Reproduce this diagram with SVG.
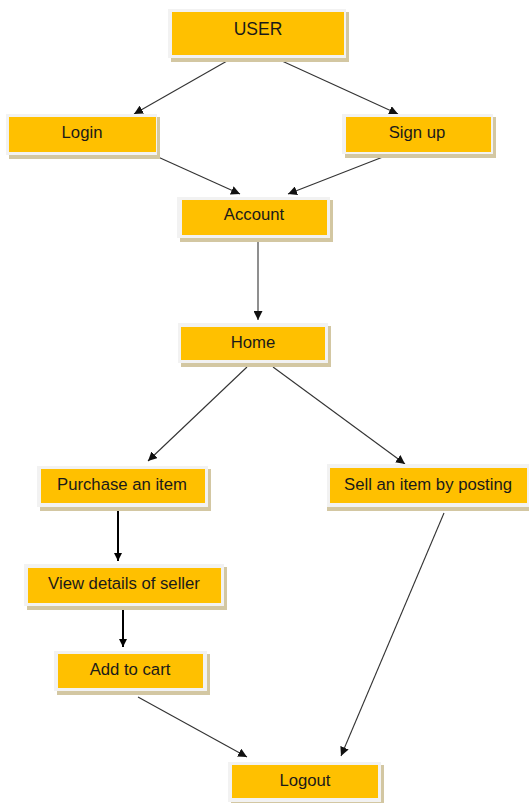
<svg xmlns="http://www.w3.org/2000/svg" width="529" height="803" viewBox="0 0 529 803">
<style>
.sh{fill:#d3c7a2}
.bd{fill:#f2f2f2}
.fl{fill:#ffc000}
.t{font-family:"Liberation Sans",Arial,sans-serif;font-size:16.7px;fill:#1a1a1a;text-anchor:middle}
.c{stroke:#333;stroke-width:1.1;fill:none;marker-end:url(#a)}
.k{stroke:#000;stroke-width:2;fill:none;marker-end:url(#b)}
</style>
<defs>
<marker id="a" viewBox="0 0 10 10" refX="10" refY="5" markerWidth="9" markerHeight="9" markerUnits="userSpaceOnUse" orient="auto"><path d="M0,0 L10,5 L0,10 z" fill="#111"/></marker>
<marker id="b" viewBox="0 0 10 10" refX="10" refY="5" markerWidth="8" markerHeight="8" markerUnits="userSpaceOnUse" orient="auto"><path d="M0,0 L10,5 L0,10 z" fill="#000"/></marker>
</defs>
<rect width="529" height="803" fill="#fff"/>
<g id="connectors">
<line class="c" x1="227" y1="61" x2="134" y2="114"/>
<line class="c" x1="282" y1="61" x2="398" y2="114"/>
<line class="c" x1="158" y1="157" x2="240" y2="194"/>
<line class="c" x1="388" y1="155" x2="288" y2="194"/>
<line class="c" x1="258" y1="237" x2="258" y2="320"/>
<line class="c" x1="247" y1="367" x2="148" y2="461"/>
<line class="c" x1="273" y1="367" x2="405" y2="464"/>
<line class="k" x1="118" y1="506" x2="118" y2="561"/>
<line class="k" x1="123" y1="609" x2="123" y2="647"/>
<line class="c" x1="138" y1="697" x2="247" y2="757"/>
<line class="c" x1="444" y1="513" x2="341" y2="756"/>
</g>
<g id="user">
<rect class="sh" x="171" y="12" width="178" height="50"/>
<rect class="bd" x="168" y="9" width="178" height="49"/>
<rect class="fl" x="172" y="12" width="172" height="43"/>
<text class="t" x="258" y="35" style="font-size:17.5px">USER</text>
</g>
<g id="login">
<rect class="sh" x="9" y="117" width="151" height="42"/>
<rect class="bd" x="6" y="114" width="151" height="41"/>
<rect class="fl" x="9" y="117" width="147" height="35"/>
<text class="t" x="82" y="138">Login</text>
</g>
<g id="signup">
<rect class="sh" x="345" y="117" width="151" height="41"/>
<rect class="bd" x="342" y="114" width="151" height="40"/>
<rect class="fl" x="346" y="117" width="145" height="35"/>
<text class="t" x="417" y="138">Sign up</text>
</g>
<g id="account">
<rect class="sh" x="180" y="200" width="153" height="42"/>
<rect class="bd" x="177" y="197" width="153" height="41"/>
<rect class="fl" x="182" y="200" width="145" height="35"/>
<text class="t" x="254" y="220">Account</text>
</g>
<g id="home">
<rect class="sh" x="181" y="326" width="150" height="41"/>
<rect class="bd" x="178" y="323" width="150" height="40"/>
<rect class="fl" x="181" y="327" width="144" height="33"/>
<text class="t" x="253" y="348">Home</text>
</g>
<g id="purchase">
<rect class="sh" x="40" y="469" width="171" height="42"/>
<rect class="bd" x="37" y="466" width="171" height="41"/>
<rect class="fl" x="41" y="469" width="164" height="34"/>
<text class="t" x="122" y="490">Purchase an item</text>
</g>
<g id="sell">
<rect class="sh" x="327" y="467" width="202" height="44"/>
<rect class="bd" x="327" y="464" width="202" height="43"/>
<rect class="fl" x="330" y="468" width="197" height="35"/>
<text class="t" x="428" y="490">Sell an item by posting</text>
</g>
<g id="view">
<rect class="sh" x="27" y="567" width="200" height="43"/>
<rect class="bd" x="24" y="564" width="200" height="42"/>
<rect class="fl" x="28" y="568" width="193" height="35"/>
<text class="t" x="124" y="589">View details of seller</text>
</g>
<g id="addcart">
<rect class="sh" x="57" y="654" width="153" height="41"/>
<rect class="bd" x="54" y="651" width="153" height="40"/>
<rect class="fl" x="58" y="654" width="145" height="34"/>
<text class="t" x="130" y="675">Add to cart</text>
</g>
<g id="logout">
<rect class="sh" x="231" y="765" width="153" height="40"/>
<rect class="bd" x="228" y="762" width="153" height="40"/>
<rect class="fl" x="232" y="765" width="146" height="33"/>
<text class="t" x="305" y="786">Logout</text>
</g>
</svg>
